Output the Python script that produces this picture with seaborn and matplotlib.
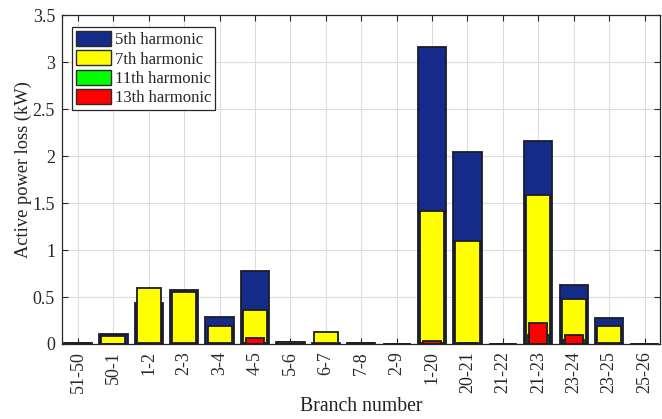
import matplotlib
matplotlib.use("Agg")
import matplotlib.pyplot as plt
import seaborn as sns
import pandas as pd
from matplotlib.patches import Patch

branches = ["51-50", "50-1", "1-2", "2-3", "3-4", "4-5", "5-6", "6-7", "7-8", "2-9",
            "1-20", "20-21", "21-22", "21-23", "23-24", "23-25", "25-26"]
h5 = [0.012, 0.105, 0.44, 0.575, 0.285, 0.775, 0.02, 0.012, 0.012, 0.005,
      3.16, 2.04, 0.005, 2.16, 0.625, 0.275, 0.005]
h7 = [0.006, 0.08, 0.60, 0.55, 0.195, 0.365, 0.02, 0.125, 0.01, 0.003,
      1.41, 1.10, 0.003, 1.59, 0.475, 0.19, 0.003]
h11 = [0.002, 0.005, 0.01, 0.008, 0.008, 0.012, 0.004, 0.006, 0.003, 0.001,
       0.01, 0.01, 0.001, 0.10, 0.04, 0.006, 0.001]
h13 = [0.001, 0.002, 0.004, 0.003, 0.004, 0.06, 0.002, 0.003, 0.001, 0.001,
       0.03, 0.006, 0.001, 0.22, 0.10, 0.004, 0.001]
labels = ["5th harmonic", "7th harmonic", "11th harmonic", "13th harmonic"]
colors = ["#142b8a", "#ffff00", "#00ff00", "#ff0000"]
widths = [0.8, 0.68, 0.6, 0.5]

sns.set_theme(style="whitegrid")
plt.rcParams["font.family"] = ["Liberation Serif", "DejaVu Serif"]

fig = plt.figure(figsize=(6.62, 4.19), dpi=100)
ax = fig.add_axes([0.0937, 0.179, 0.904, 0.785])

for vals, col, w in zip([h5, h7, h11, h13], colors, widths):
    df = pd.DataFrame({"branch": branches, "loss": vals})
    sns.barplot(data=df, x="branch", y="loss", order=branches, color=col,
                width=w, saturation=1, edgecolor="#1c1c2a", linewidth=1.3,
                errorbar=None, ax=ax, zorder=3)

ax.set_xlim(-0.45, 16.45)
ax.set_ylim(0, 3.5)
ax.set_yticks([0, 0.5, 1, 1.5, 2, 2.5, 3, 3.5])
ax.set_yticklabels(["0", "0.5", "1", "1.5", "2", "2.5", "3", "3.5"])
ax.set_xticks(range(len(branches)))
ax.set_xticklabels(branches, rotation=90)
ax.set_xlabel("Branch number", fontsize=14.2, color="#222222", labelpad=3)
ax.set_ylabel("Active power loss (kW)", fontsize=13.2, color="#222222")
ax.yaxis.set_label_coords(-0.05, 0.53)
ax.tick_params(axis="both", labelsize=13, direction="in", length=4,
               top=True, right=True, bottom=True, left=True,
               color="#262626", labelcolor="#262626", width=0.8, pad=5)
ax.grid(True, color="#dcdcdc", linewidth=0.8, zorder=0)
ax.set_axisbelow(True)
ax.set_facecolor("white")
for s in ax.spines.values():
    s.set_visible(True)
    s.set_color("#262626")
    s.set_linewidth(0.9)

handles = [Patch(facecolor=c, edgecolor="#2a2a2a", linewidth=1.0, label=l)
           for c, l in zip(colors, labels)]
leg = ax.legend(handles=handles, loc="upper left", bbox_to_anchor=(0.0167, 0.9635),
                borderaxespad=0, fontsize=12, frameon=True, fancybox=False,
                handlelength=2.1, handleheight=1.0, handletextpad=0.2,
                labelspacing=0.12, borderpad=0.25)
leg.get_frame().set_edgecolor("#262626")
leg.get_frame().set_linewidth(0.9)
leg.get_frame().set_alpha(1)

fig.savefig("out.png", dpi=100)
